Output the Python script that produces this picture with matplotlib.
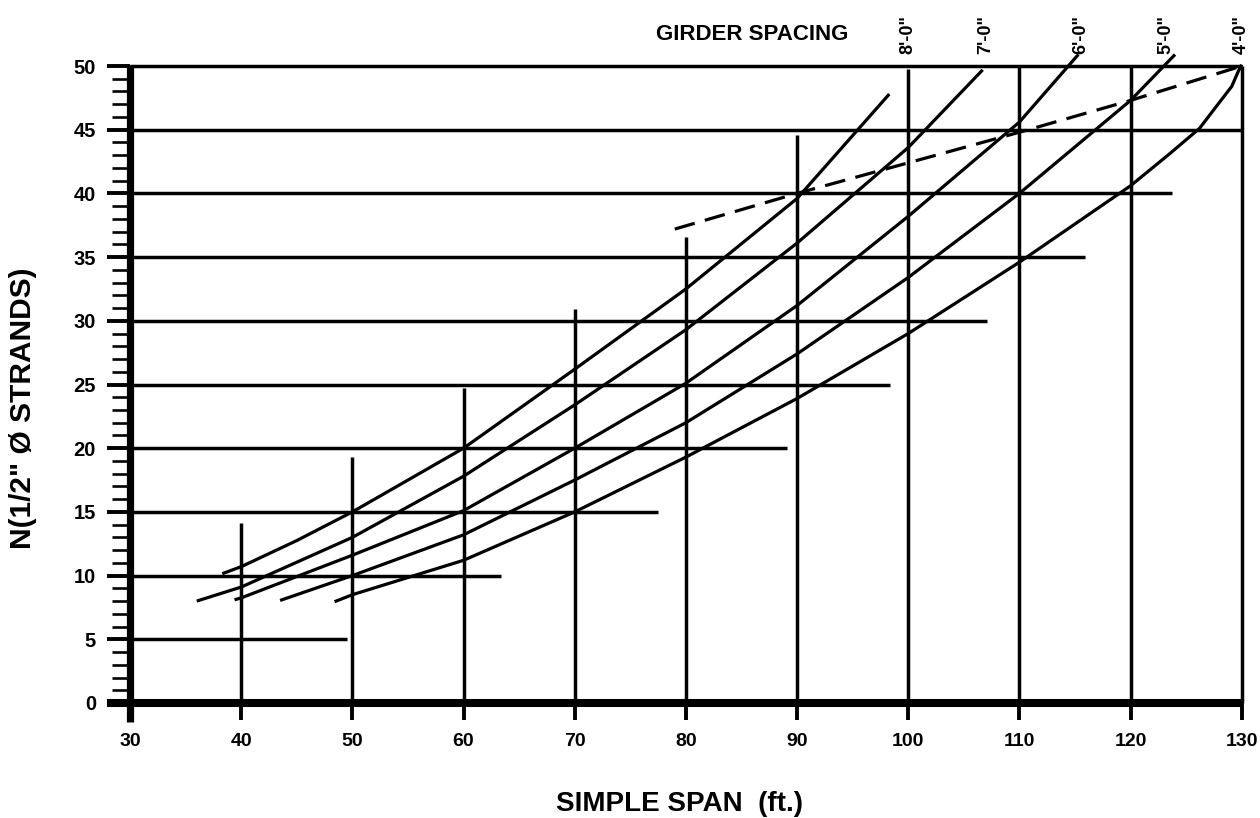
import matplotlib
matplotlib.use("Agg")
import matplotlib.pyplot as plt
from matplotlib.ticker import MultipleLocator, FixedLocator
from matplotlib.lines import Line2D

plt.rcParams['font.family'] = ['Liberation Sans', 'DejaVu Sans']

# ---------------- data ----------------
span_ticks = [30, 40, 50, 60, 70, 80, 90, 100, 110, 120, 130]
strand_ticks = [0, 5, 10, 15, 20, 25, 30, 35, 40, 45, 50]

# horizontal guide lines: strand level and where each line stops (ft)
hgrid_y = [5, 10, 15, 20, 25, 30, 35, 40, 45, 50]
hgrid_xend = [49.5, 63.4, 77.5, 89.1, 98.4, 107.1, 115.9, 123.7, 130, 130]

# vertical guide lines: span and where each line stops (strands)
vgrid_x = [40, 50, 60, 70, 80, 90, 100, 110, 120, 130]
vgrid_ytop = [14.1, 19.3, 24.7, 30.9, 36.6, 44.6, 49.8, 50, 50, 50]

# girder spacing curves (span ft, strands)
span_8ft = [38.3, 40, 45, 50, 60, 70, 80, 90, 98.3]
n_8ft = [10.15, 10.7, 12.75, 15.0, 20.0, 26.2, 32.5, 39.6, 47.8]

span_7ft = [36.0, 40, 50, 60, 70, 80, 90, 100, 106.7]
n_7ft = [8.0, 9.1, 13.0, 17.8, 23.4, 29.3, 36.1, 43.6, 49.7]

span_6ft = [39.4, 40, 50, 60, 70, 80, 90, 100, 110, 115.3]
n_6ft = [8.1, 8.25, 11.6, 15.1, 20.0, 25.1, 31.2, 38.2, 45.6, 50.9]

span_5ft = [43.5, 50, 60, 70, 80, 90, 100, 110, 120, 124.0]
n_5ft = [8.05, 10.0, 13.2, 17.5, 22.0, 27.4, 33.4, 40.0, 47.3, 50.9]

span_4ft = [48.4, 50, 60, 70, 80, 90, 100, 110, 120, 123.5, 126.2, 127.6, 129.1, 129.7, 130.0]
n_4ft = [7.95, 8.5, 11.2, 15.0, 19.3, 23.9, 29.0, 34.6, 40.6, 43.1, 45.1, 46.7, 48.4, 49.6, 50.1]

# dashed limit line
limit_span = [79.0, 90, 100, 110, 120, 130]
limit_n = [37.2, 40.0, 42.4, 44.8, 47.3, 50.0]

spacing_labels = ["8'-0\"", "7'-0\"", "6'-0\"", "5'-0\"", "4'-0\""]
spacing_label_x = [100.0, 107.0, 115.5, 123.2, 130.0]

# ---------------- figure ----------------
fig = plt.figure(figsize=(12.6, 8.18), dpi=100)
ax = fig.add_axes([0.1032, 0.1406, 0.8823, 0.7787])
ax.set_xlim(30, 130)
ax.set_ylim(0, 50)

for s in ax.spines.values():
    s.set_visible(False)

grid_lw = 2.5
curve_lw = 2.3

# horizontal guide lines
ax.hlines(hgrid_y, 30, hgrid_xend, colors='black', linewidth=grid_lw,
          clip_on=False, zorder=2)
# vertical guide lines
ax.vlines(vgrid_x, 0, vgrid_ytop, colors='black', linewidth=grid_lw,
          clip_on=False, zorder=2)

# heavy axis lines
ax.add_line(Line2D([27.93, 130.1], [0, 0], color='black', linewidth=5.8,
                   solid_capstyle='butt', clip_on=False, zorder=3))
ax.add_line(Line2D([30, 30], [-1.5, 50.1], color='black', linewidth=5.2,
                   solid_capstyle='butt', clip_on=False, zorder=3))

# curves
for xs, ys in [(span_8ft, n_8ft), (span_7ft, n_7ft), (span_6ft, n_6ft),
               (span_5ft, n_5ft), (span_4ft, n_4ft)]:
    ax.plot(xs, ys, color='black', linewidth=curve_lw, clip_on=False,
            solid_capstyle='butt', solid_joinstyle='round', zorder=4)

ax.plot(limit_span, limit_n, color='black', linewidth=curve_lw,
        dashes=(6.5, 3.3), clip_on=False, zorder=4)

# ticks
ax.xaxis.set_major_locator(FixedLocator(span_ticks))
ax.yaxis.set_major_locator(FixedLocator(strand_ticks))
ax.yaxis.set_minor_locator(MultipleLocator(1))
ax.tick_params(axis='x', which='major', direction='out', length=12.5,
               width=2.8, pad=9, labelsize=14, top=False)
ax.tick_params(axis='y', which='major', direction='out', length=16.5,
               width=2.8, pad=8, labelsize=14.5, right=False)
ax.tick_params(axis='y', which='minor', direction='out', length=13,
               width=1.9, right=False)
ax.tick_params(axis='x', which='minor', bottom=False)
ax.set_xticklabels([str(v) for v in span_ticks], fontweight='bold')
ax.set_yticklabels([str(v) for v in strand_ticks], fontweight='bold')

# girder spacing labels
for lab, xv in zip(spacing_labels, spacing_label_x):
    ax.annotate(lab, xy=(xv, 50), xytext=(0, 9), textcoords='offset points',
                rotation=90, ha='center', va='bottom', fontsize=13,
                fontweight='bold', annotation_clip=False)

fig.text(752 / 1260, 1 - 35 / 818, "GIRDER SPACING", ha='center',
         va='center', fontsize=16, fontweight='bold')

fig.text(679 / 1260, 1 - 804 / 818, "SIMPLE SPAN  (ft.)", ha='center',
         va='center', fontsize=20, fontweight='bold')
fig.text(23 / 1260, 1 - 408 / 818, "N(1/2\" \u00d8 STRANDS)", ha='center',
         va='center', rotation=90, fontsize=21.5, fontweight='bold')

fig.savefig("out.png", dpi=100, facecolor='white')
